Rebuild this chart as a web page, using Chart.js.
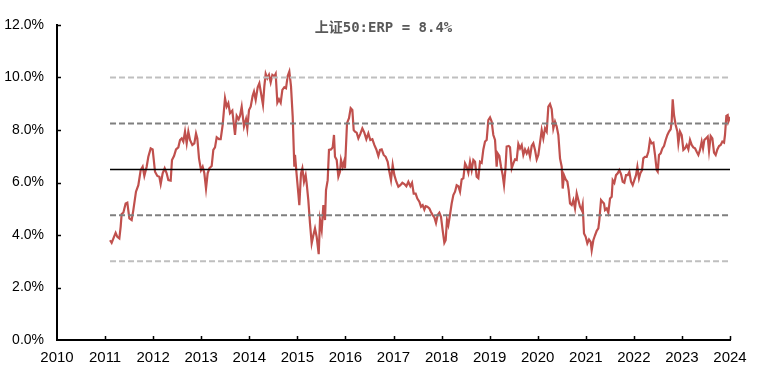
<!DOCTYPE html>
<html>
<head>
<meta charset="utf-8">
<script src="https://cdn.jsdelivr.net/npm/chart.js@4/dist/chart.umd.min.js"></script>
<style>
html,body{margin:0;padding:0;background:#fff;}
#wrap{width:767px;height:383px;}
</style>
</head>
<body>
<div id="wrap"><canvas id="c" width="767" height="383"></canvas></div>
<script>
const titleText = '上证50:ERP = 8.4%';

// decimal-year dates of each observation
const dates = [
  2011.103, 2011.137, 2011.186, 2011.220, 2011.255, 2011.297, 2011.324, 2011.345, 2011.380, 2011.428,
  2011.463, 2011.505, 2011.553, 2011.588, 2011.643, 2011.692, 2011.741, 2011.782, 2011.817, 2011.865,
  2011.900, 2011.949, 2011.990,
  2012.039, 2012.087, 2012.129, 2012.157, 2012.198, 2012.240, 2012.281, 2012.316, 2012.365, 2012.392,
  2012.434, 2012.476, 2012.524, 2012.559, 2012.594, 2012.628, 2012.663, 2012.698, 2012.732, 2012.767,
  2012.815, 2012.857, 2012.892, 2012.919, 2012.954, 2012.996,
  2013.030, 2013.065, 2013.100, 2013.134, 2013.169, 2013.218, 2013.252, 2013.287, 2013.322, 2013.370,
  2013.405, 2013.446, 2013.495, 2013.530, 2013.564, 2013.599, 2013.647, 2013.703, 2013.738, 2013.779,
  2013.807, 2013.842, 2013.890, 2013.932, 2013.959, 2013.994,
  2014.029, 2014.070, 2014.098, 2014.133, 2014.175, 2014.209, 2014.285, 2014.313, 2014.341, 2014.376,
  2014.410, 2014.445, 2014.480, 2014.521, 2014.549, 2014.584, 2014.618, 2014.653, 2014.688, 2014.729,
  2014.764, 2014.799, 2014.833, 2014.868, 2014.903, 2014.937, 2014.951, 2014.986,
  2015.020, 2015.041, 2015.076, 2015.104, 2015.138, 2015.173, 2015.194, 2015.228, 2015.263, 2015.298,
  2015.333, 2015.367, 2015.402, 2015.444, 2015.471, 2015.506, 2015.541, 2015.575, 2015.596, 2015.631,
  2015.658, 2015.700, 2015.735, 2015.762, 2015.783, 2015.818, 2015.853, 2015.887, 2015.908, 2015.943,
  2015.977, 2015.991,
  2016.033, 2016.074, 2016.109, 2016.144, 2016.172, 2016.199, 2016.234, 2016.269, 2016.310, 2016.352,
  2016.393, 2016.435, 2016.477, 2016.518, 2016.560, 2016.601, 2016.643, 2016.685, 2016.719, 2016.754,
  2016.796, 2016.837, 2016.879, 2016.914, 2016.948, 2016.983,
  2017.018, 2017.059, 2017.101, 2017.142, 2017.184, 2017.226, 2017.267, 2017.309, 2017.350, 2017.385,
  2017.420, 2017.461, 2017.496, 2017.538, 2017.572, 2017.607, 2017.642, 2017.669, 2017.704, 2017.746,
  2017.780, 2017.815, 2017.850, 2017.884, 2017.919, 2017.954, 2017.988,
  2018.023, 2018.058, 2018.085, 2018.113, 2018.141, 2018.175, 2018.210, 2018.245, 2018.280, 2018.314,
  2018.349, 2018.384, 2018.418, 2018.453, 2018.488, 2018.522, 2018.557, 2018.592, 2018.626, 2018.661,
  2018.696, 2018.730, 2018.765, 2018.800, 2018.834, 2018.869, 2018.904, 2018.938, 2018.973,
  2019.008, 2019.042, 2019.077, 2019.112, 2019.146, 2019.167, 2019.202, 2019.237, 2019.271, 2019.299,
  2019.327, 2019.354, 2019.396, 2019.424, 2019.459, 2019.493, 2019.528, 2019.563, 2019.597, 2019.632,
  2019.667, 2019.701, 2019.736, 2019.771, 2019.805, 2019.840, 2019.875, 2019.909, 2019.944, 2019.979,
  2020.013, 2020.048, 2020.083, 2020.117, 2020.152, 2020.187, 2020.221, 2020.256, 2020.291, 2020.325,
  2020.360, 2020.395, 2020.429, 2020.464, 2020.499, 2020.520, 2020.547, 2020.582, 2020.617, 2020.644,
  2020.672, 2020.707, 2020.741, 2020.776, 2020.811, 2020.845, 2020.880, 2020.915, 2020.935, 2020.963,
  2020.998,
  2021.032, 2021.067, 2021.102, 2021.123, 2021.157, 2021.192, 2021.227, 2021.261, 2021.282, 2021.317,
  2021.345, 2021.379, 2021.400, 2021.435, 2021.469, 2021.504, 2021.539, 2021.560, 2021.594, 2021.629,
  2021.664, 2021.698, 2021.733, 2021.768, 2021.802, 2021.837, 2021.872, 2021.906, 2021.941, 2021.976,
  2022.010, 2022.045, 2022.073, 2022.107, 2022.135, 2022.170, 2022.197, 2022.232, 2022.267, 2022.302,
  2022.336, 2022.371, 2022.406, 2022.440, 2022.475, 2022.496, 2022.523, 2022.558, 2022.593, 2022.627,
  2022.662, 2022.697, 2022.731, 2022.766, 2022.787, 2022.808, 2022.835, 2022.870, 2022.905, 2022.926,
  2022.960, 2022.995,
  2023.030, 2023.064, 2023.099, 2023.134, 2023.168, 2023.203, 2023.238, 2023.272, 2023.307, 2023.342,
  2023.376, 2023.411, 2023.439, 2023.466, 2023.501, 2023.536, 2023.564, 2023.598, 2023.633, 2023.668,
  2023.702, 2023.737, 2023.772, 2023.806, 2023.841, 2023.876, 2023.896, 2023.924, 2023.952, 2023.966,
  2023.993, 2024.021
];

// 上证50 equity risk premium, %
const erp = [
  3.80, 3.70, 3.93, 4.08, 3.93, 3.87, 4.31, 4.80, 4.85, 5.20,
  5.23, 4.63, 4.57, 4.95, 5.65, 5.90, 6.47, 6.60, 6.25, 6.60,
  6.98, 7.30, 7.26,
  6.41, 6.25, 6.22, 5.94, 6.35, 6.54, 6.35, 6.09, 6.07, 6.86,
  7.01, 7.26, 7.34, 7.62, 7.68, 7.56, 7.94, 7.49, 7.94, 7.62,
  7.43, 7.49, 7.87, 7.68, 6.92, 6.47,
  6.60, 6.35, 5.77, 6.35, 6.54, 6.63, 7.24, 7.34, 7.72, 7.65,
  7.65, 8.19, 9.21, 8.89, 9.02, 8.64, 8.74, 7.81, 8.54, 8.41,
  8.54, 8.89, 8.13, 8.41, 8.06, 8.76,
  8.89, 9.30, 9.46, 9.15, 9.63, 9.78, 8.96, 9.66, 10.14, 9.97,
  10.10, 9.81, 10.10, 10.04, 10.14, 9.04, 9.17, 9.04, 9.53, 9.63,
  9.59, 10.06, 10.23, 9.66, 8.51, 6.60, 7.05, 6.28,
  5.58, 5.14, 6.35, 6.54, 6.03, 6.28, 5.97, 5.33, 4.44, 3.68,
  3.99, 4.25, 3.93, 3.27, 4.57, 4.19, 5.14, 4.57, 5.71, 6.09,
  7.24, 7.26, 7.34, 7.81, 6.98, 6.86, 6.22, 6.41, 6.86, 6.60,
  6.83, 6.54,
  8.26, 8.45, 8.83, 8.76, 8.00, 7.94, 7.90, 7.68, 7.85, 8.06,
  7.90, 7.65, 7.87, 7.62, 7.65, 7.43, 7.26, 7.01, 7.24, 7.26,
  7.05, 6.98, 6.79, 6.41, 6.09, 6.67,
  6.28, 6.03, 5.84, 5.90, 5.99, 5.94, 5.86, 6.03, 5.86, 5.99,
  5.58, 5.58, 5.39, 5.27, 5.08, 5.14, 4.97, 5.10, 5.08, 5.01,
  4.88, 4.76, 4.67, 4.46, 4.76, 4.85, 4.69,
  4.18, 3.70, 3.80, 4.57, 4.38, 4.76, 5.20, 5.52, 5.65, 5.90,
  5.86, 5.65, 6.12, 6.16, 6.73, 6.60, 6.37, 6.79, 6.47, 6.86,
  6.79, 6.22, 6.16, 6.79, 6.75, 7.26, 7.56, 7.62, 8.38,
  8.48, 8.32, 7.81, 7.62, 6.60, 7.11, 7.01, 6.60, 6.28, 5.90,
  6.47, 7.37, 7.39, 7.34, 6.54, 6.73, 6.88, 6.86, 7.47, 7.30,
  7.43, 7.05, 7.26, 7.11, 7.26, 6.98, 7.39, 7.49, 7.24, 6.88,
  7.05, 7.52, 8.00, 7.68, 8.06, 7.94, 8.89, 8.99, 8.79, 8.06,
  8.32, 8.13, 7.81, 6.92, 6.60, 5.77, 6.28, 6.12, 6.03, 5.71,
  5.20, 5.14, 5.33, 5.01, 5.58, 5.33, 5.08, 4.95, 5.14, 4.06,
  3.93,
  3.68, 3.83, 3.74, 3.42, 3.80, 3.99, 4.16, 4.25, 4.57, 5.33,
  5.27, 5.20, 4.95, 5.01, 4.85, 5.39, 5.46, 6.09, 5.99, 6.28,
  6.35, 6.47, 6.32, 6.03, 5.99, 6.28, 6.28, 6.41, 6.03, 5.90,
  6.09, 6.28, 6.60, 6.16, 6.35, 6.47, 6.92, 6.98, 6.98, 7.17,
  7.62, 7.49, 7.52, 7.05, 6.47, 6.41, 7.05, 7.11, 7.30, 7.39,
  7.62, 7.81, 7.94, 8.03, 8.32, 9.17, 8.57, 8.19, 7.94, 7.49,
  7.94, 7.81,
  7.24, 7.30, 7.43, 7.26, 7.62, 7.43, 7.34, 7.30, 7.17, 7.05,
  7.24, 7.56, 7.30, 7.62, 7.68, 7.75, 7.21, 7.77, 7.68, 7.14,
  7.05, 7.26, 7.39, 7.43, 7.56, 7.52, 7.81, 8.54, 8.57, 8.32,
  8.45, 8.41
];

// axis ticks
const yearTicks = [2010, 2011, 2012, 2013, 2014, 2015, 2016, 2017, 2018, 2019, 2020, 2021, 2022, 2023, 2024];
const pctTicks = [0, 2, 4, 6, 8, 10, 12];

// mean, ±1 std, ±2 std reference levels (%)
const bandLevels = [10.0, 8.25, 6.5, 4.75, 3.0];

// styles (kept apart from data)
const bandStyles = [
  { color: '#BFBFBF', dash: [6, 3], width: 2 },
  { color: '#7F7F7F', dash: [6, 3], width: 2 },
  { color: '#000000', dash: [],     width: 1.5 },
  { color: '#7F7F7F', dash: [6, 3], width: 2 },
  { color: '#BFBFBF', dash: [6, 3], width: 2 }
];

const series = dates.map((d, i) => ({ x: d, y: erp[i] }));
const xStart = dates[0], xEnd = dates[dates.length - 1];

const bandDatasets = bandLevels.map((lvl, i) => ({
  label: 'band' + i,
  data: [{ x: xStart, y: lvl }, { x: xEnd, y: lvl }],
  borderColor: bandStyles[i].color,
  borderDash: bandStyles[i].dash,
  borderWidth: bandStyles[i].width,
  pointRadius: 0,
  fill: false,
  tension: 0
}));

const innerTicks = {
  id: 'innerTicks',
  afterDraw(chart) {
    const { ctx, chartArea: a, scales } = chart;
    const x = scales.x, y = scales.y;
    ctx.save();
    ctx.strokeStyle = '#000';
    ctx.lineWidth = 1.5;
    ctx.beginPath();
    x.ticks.forEach(t => {
      const px = Math.round(x.getPixelForValue(t.value)) + 0.5;
      if (px > a.left + 2) { ctx.moveTo(px, a.bottom); ctx.lineTo(px, a.bottom - 4); }
    });
    y.ticks.forEach(t => {
      const py = Math.round(y.getPixelForValue(t.value)) + 0.5;
      if (py < a.bottom - 2) { ctx.moveTo(a.left, py); ctx.lineTo(a.left + 4, py); }
    });
    ctx.stroke();
    ctx.restore();
  }
};

new Chart(document.getElementById('c'), {
  type: 'line',
  data: {
    datasets: [
      ...bandDatasets,
      {
        label: 'ERP',
        data: series,
        borderColor: '#C0504D',
        borderWidth: 2.2,
        pointRadius: 0,
        fill: false,
        tension: 0
      }
    ]
  },
  options: {
    responsive: false,
    animation: false,
    layout: { padding: 0 },
    plugins: {
      legend: { display: false },
      tooltip: { enabled: false },
      title: {
        display: true,
        text: titleText,
        color: '#595959',
        font: { family: "'DejaVu Sans Mono','Noto Sans CJK SC',monospace", size: 14, weight: 'bold' },
        padding: { top: 19.6, bottom: -11.4 }
      }
    },
    scales: {
      x: {
        type: 'linear',
        min: 2010,
        max: 2024,
        afterBuildTicks: s => { s.ticks = yearTicks.map(v => ({ value: v })); },
        afterFit: s => { s.height = 43; },
        ticks: {
          autoSkip: false,
          maxRotation: 0,
          padding: 9,
          color: '#000',
          font: { family: "'Liberation Sans Narrow','Arial Narrow','Liberation Sans',sans-serif", size: 15 },
          callback: v => String(v)
        },
        grid: { display: false, drawTicks: false },
        border: { display: true, color: '#000', width: 2 }
      },
      y: {
        type: 'linear',
        min: 0,
        max: 12,
        afterBuildTicks: s => { s.ticks = pctTicks.map(v => ({ value: v })); },
        afterFit: s => { s.width = 57; },
        ticks: {
          padding: 13,
          color: '#000',
          font: { family: "'Liberation Sans',Arial,sans-serif", size: 14 },
          callback: v => v.toFixed(1) + '%'
        },
        grid: { display: false, drawTicks: false },
        border: { display: true, color: '#000', width: 2 }
      },
      yRight: {
        type: 'linear',
        position: 'right',
        min: 0,
        max: 1,
        afterFit: s => { s.width = 37; },
        ticks: { display: false },
        grid: { display: false, drawTicks: false },
        border: { display: false }
      }
    }
  },
  plugins: [innerTicks]
});
</script>
</body>
</html>
